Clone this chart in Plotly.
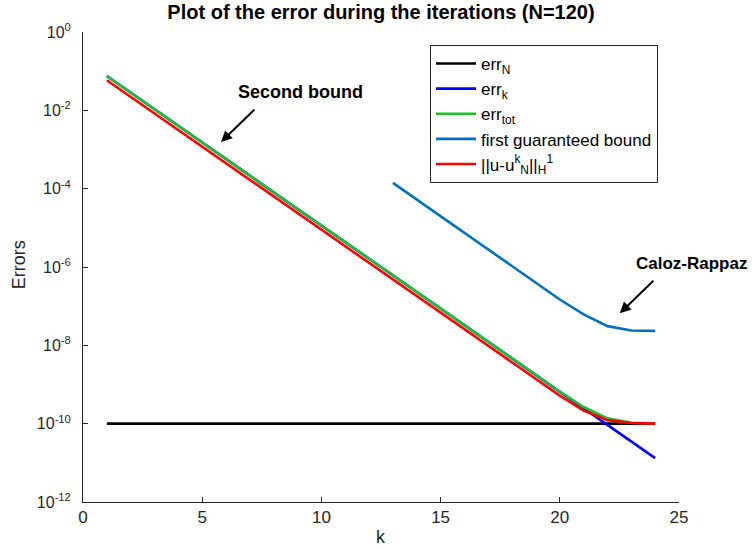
import plotly.graph_objects as go

k = list(range(1, 25))
err_N = [1.0e-10] * 24
err_k = [7.52e-2, 2.83e-2, 1.067e-2, 4.01e-3, 1.51e-3, 5.69e-4, 2.14e-4, 8.07e-5,
         3.04e-5, 1.14e-5, 4.31e-6, 1.62e-6, 6.10e-7, 2.30e-7, 8.65e-8, 3.26e-8,
         1.23e-8, 4.62e-9, 1.74e-9, 6.55e-10, 2.47e-10, 9.29e-11, 3.49e-11, 1.32e-11]
err_tot = [7.52e-2, 2.83e-2, 1.067e-2, 4.01e-3, 1.51e-3, 5.69e-4, 2.14e-4, 8.07e-5,
           3.04e-5, 1.14e-5, 4.31e-6, 1.62e-6, 6.10e-7, 2.30e-7, 8.65e-8, 3.26e-8,
           1.23e-8, 4.62e-9, 1.74e-9, 6.63e-10, 2.66e-10, 1.37e-10, 1.06e-10, 1.01e-10]
k_first = list(range(13, 25))
first_bound = [1.41e-4, 5.31e-5, 2.00e-5, 7.50e-6, 2.82e-6, 1.06e-6, 3.98e-7,
               1.48e-7, 6.17e-8, 3.09e-8, 2.40e-8, 2.34e-8]
err_true = [5.87e-2, 2.21e-2, 8.32e-3, 3.13e-3, 1.18e-3, 4.44e-4, 1.67e-4, 6.29e-5,
            2.37e-5, 8.89e-6, 3.36e-6, 1.26e-6, 4.76e-7, 1.79e-7, 6.75e-8, 2.54e-8,
            9.59e-9, 3.60e-9, 1.36e-9, 5.21e-10, 2.17e-10, 1.23e-10, 1.04e-10, 1.005e-10]

y_tick_vals = [1, 1e-2, 1e-4, 1e-6, 1e-8, 1e-10, 1e-12]
y_tick_text = ["10<sup>0</sup>", "10<sup>-2</sup>", "10<sup>-4</sup>", "10<sup>-6</sup>",
               "10<sup>-8</sup>", "10<sup>-10</sup>", "10<sup>-12</sup>"]
x_tick_vals = [0, 5, 10, 15, 20, 25]

FONT = "Liberation Sans, Arial, Helvetica, sans-serif"
AX = "#262626"
LW = 2.6

L, R, T, B = 83, 679, 32, 501.6
W, H = 752, 548

fig = go.Figure()
fig.add_trace(go.Scatter(x=k, y=err_N, mode="lines", name="err<sub>N</sub>",
                         line=dict(color="#000000", width=LW)))
fig.add_trace(go.Scatter(x=k, y=err_k, mode="lines", name="err<sub>k</sub>",
                         line=dict(color="#0000ff", width=LW)))
fig.add_trace(go.Scatter(x=k, y=err_tot, mode="lines", name="err<sub>tot</sub>",
                         line=dict(color="#1fbf2f", width=LW)))
fig.add_trace(go.Scatter(x=k_first, y=first_bound, mode="lines",
                         name="first guaranteed bound",
                         line=dict(color="#0072bd", width=LW)))
fig.add_trace(go.Scatter(x=k, y=err_true, mode="lines",
                         name="||u-u<sup>k</sup><sub>N</sub>||<sub>H</sub><sup>1</sup>",
                         line=dict(color="#ff0000", width=LW)))

fig.update_layout(
    width=W, height=H,
    margin=dict(l=L, r=W - R, t=T, b=H - B, autoexpand=False),
    paper_bgcolor="white", plot_bgcolor="white",
    font=dict(family=FONT, color=AX, size=17),
    title=dict(text="<b>Plot of the error during the iterations (N=120)</b>",
               x=(L + R) / 2 / W, xanchor="center", y=1 - 12 / H, yanchor="middle",
               font=dict(size=20, color="#000000")),
    showlegend=True,
    legend=dict(x=(430 - L) / (R - L), y=(B - 45) / (B - T), xanchor="left", yanchor="top",
                bgcolor="white", bordercolor="#262626", borderwidth=1,
                font=dict(size=17, color="#000000"), itemwidth=40,
                tracegroupgap=0, traceorder="normal"),
    xaxis=dict(range=[0, 25], tickvals=x_tick_vals, ticks="inside", ticklen=5,
               showgrid=False, zeroline=False, showline=True, linecolor=AX,
               linewidth=1, tickcolor=AX, tickfont=dict(size=17, color=AX),
               automargin=False),
    yaxis=dict(type="log", range=[-12, 0], tickvals=y_tick_vals, ticktext=y_tick_text,
               ticks="inside", ticklen=5, showgrid=False, zeroline=False,
               showline=True, linecolor=AX, linewidth=1, tickcolor=AX,
               tickfont=dict(size=16, color=AX), ticklabelstandoff=8,
               automargin=False),
)

# axis titles
fig.add_annotation(x=(381 - L) / (R - L), y=(B - 537) / (B - T), xref="paper", yref="paper",
                   text="k", showarrow=False, font=dict(size=18, color=AX),
                   xanchor="center", yanchor="middle")
fig.add_annotation(x=(19 - L) / (R - L), y=(B - 265) / (B - T), xref="paper", yref="paper",
                   text="Errors", showarrow=False, textangle=-90,
                   font=dict(size=18, color=AX), xanchor="center", yanchor="middle")

# arrows
fig.add_annotation(x=5.79, y=-2.81, xref="x", yref="y", text="", showarrow=True,
                   ax=35, ay=-34, arrowhead=2, arrowsize=1.1, arrowwidth=2,
                   arrowcolor="#000000")
fig.add_annotation(x=22.52, y=-7.18, xref="x", yref="y", text="", showarrow=True,
                   ax=35, ay=-34, arrowhead=2, arrowsize=1.1, arrowwidth=2,
                   arrowcolor="#000000")
fig.add_annotation(x=(300 - L) / (R - L), y=(B - 92) / (B - T), xref="paper", yref="paper",
                   text="<b>Second bound</b>", showarrow=False,
                   font=dict(size=18, color="#000000"), xanchor="center", yanchor="middle")
fig.add_annotation(x=(749 - L) / (R - L), y=(B - 263) / (B - T), xref="paper", yref="paper",
                   text="<b>Caloz-Rappaz</b>", showarrow=False,
                   font=dict(size=17, color="#000000"), xanchor="right", yanchor="middle")

fig.write_html("out.html", config={"displayModeBar": False},
               post_script="document.body.style.margin='0';document.body.style.overflow='hidden';")
